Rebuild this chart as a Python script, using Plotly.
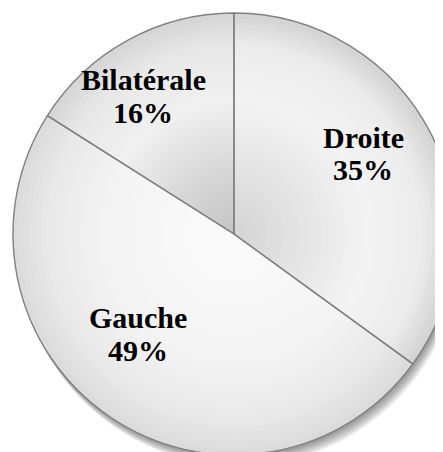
import numpy as np
import plotly.graph_objects as go

labels = ["Droite", "Gauche", "Bilatérale"]
values = [35, 49, 16]

# label block centres in page pixels (x, y of name line, y of percent line)
label_pos = {"Droite": (363, 138, 170), "Gauche": (138, 317, 350), "Bilatérale": (143, 79, 112)}

# radial shading profile per slice: (radius fraction, grey level)
shade_f = [0.0, 0.3, 0.6, 0.85, 1.0]
shade = {
    "Droite":     [212, 228, 243, 236, 210],
    "Gauche":     [250, 248, 243, 232, 218],
    "Bilatérale": [196, 216, 240, 232, 212],
}

W, H = 470, 460
OFF = 8  # page body margin
cx, cy, r = 234 - OFF, 234 - OFF, 221
total = sum(values)


def dom(cx, cy, r):
    return dict(x=[(cx - r) / W, (cx + r) / W], y=[1 - (cy + r) / H, 1 - (cy - r) / H])


def grey(v):
    v = int(round(v))
    return "rgb(%d,%d,%d)" % (v, v, v)


fig = go.Figure()

# soft drop shadow (down / slightly right)
for d in [12, 10, 8, 6, 4, 2]:
    fig.add_trace(go.Pie(
        values=[total], labels=["ombre"], domain=dom(cx + 0.45 * d, cy + 0.9 * d, r),
        marker=dict(colors=["rgba(0,0,0,0.08)"], line=dict(width=0)),
        textinfo="none", hoverinfo="skip", showlegend=False, sort=False))

# radial shading: stacked discs, largest first
N = 40
for k in range(N, 0, -1):
    f = (k - 0.5) / N
    cols = [grey(np.interp(f, shade_f, shade[lab])) for lab in labels]
    fig.add_trace(go.Pie(
        labels=labels, values=values, sort=False, direction="clockwise", rotation=0,
        domain=dom(cx, cy, r * k / N),
        marker=dict(colors=cols, line=dict(width=0)),
        textinfo="none", hoverinfo="skip", showlegend=False))

# slice outlines on top
fig.add_trace(go.Pie(
    labels=labels, values=values, sort=False, direction="clockwise", rotation=0,
    domain=dom(cx, cy, r),
    marker=dict(colors=["rgba(0,0,0,0)"] * 3, line=dict(color="#808080", width=1.4)),
    textinfo="none", showlegend=False, hoverinfo="label+percent",
))

font = dict(family="Liberation Serif, Times New Roman, serif", size=30, color="black")
for lab, v in zip(labels, values):
    px, y1, y2 = label_pos[lab]
    pct = "%d%%" % round(v / total * 100)
    for txt, py in [(lab, y1), (pct, y2)]:
        fig.add_annotation(x=(px - OFF) / W, y=1 - (py - OFF) / H, xref="paper", yref="paper",
                           text="<b>%s</b>" % txt, showarrow=False, font=font,
                           xanchor="center", yanchor="middle")

fig.update_layout(width=W, height=H, margin=dict(l=0, r=0, t=0, b=0),
                  paper_bgcolor="white", plot_bgcolor="white")
fig.write_html("out.html")
